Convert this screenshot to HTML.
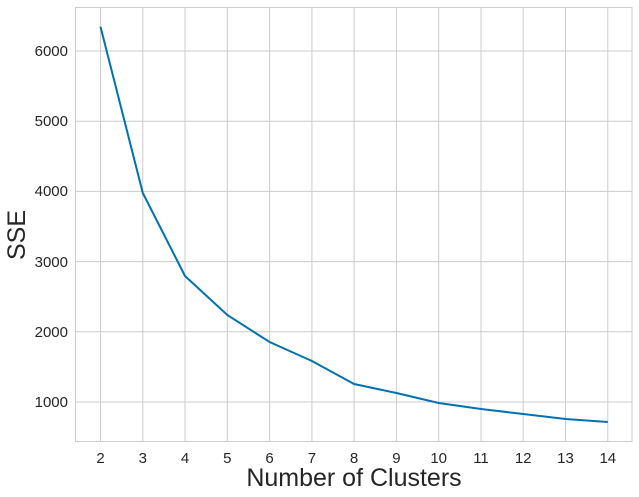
<!DOCTYPE html>
<html><head><meta charset="utf-8"><style>body{margin:0;background:#fff}svg{display:block}</style></head><body>
<svg width="639" height="497" xmlns="http://www.w3.org/2000/svg" font-family="Liberation Sans, sans-serif">
<g stroke="#cccccc" stroke-width="1">
<line x1="100.5" y1="7" x2="100.5" y2="441.5"/><line x1="142.8" y1="7" x2="142.8" y2="441.5"/><line x1="185" y1="7" x2="185" y2="441.5"/><line x1="227.3" y1="7" x2="227.3" y2="441.5"/><line x1="269.6" y1="7" x2="269.6" y2="441.5"/><line x1="311.9" y1="7" x2="311.9" y2="441.5"/><line x1="354.1" y1="7" x2="354.1" y2="441.5"/><line x1="396.4" y1="7" x2="396.4" y2="441.5"/><line x1="438.7" y1="7" x2="438.7" y2="441.5"/><line x1="481" y1="7" x2="481" y2="441.5"/><line x1="523.2" y1="7" x2="523.2" y2="441.5"/><line x1="565.5" y1="7" x2="565.5" y2="441.5"/><line x1="607.8" y1="7" x2="607.8" y2="441.5"/>
<line x1="75.5" y1="51" x2="632" y2="51"/><line x1="75.5" y1="121.2" x2="632" y2="121.2"/><line x1="75.5" y1="191.4" x2="632" y2="191.4"/><line x1="75.5" y1="261.6" x2="632" y2="261.6"/><line x1="75.5" y1="331.8" x2="632" y2="331.8"/><line x1="75.5" y1="402" x2="632" y2="402"/>
<rect x="75.5" y="7.5" width="556.5" height="434" fill="none"/>
</g>
<polyline fill="none" stroke="#0072b2" stroke-width="2" points="100.5,26.7 142.8,193 185,276 227.3,315 269.6,342 311.9,361 354.1,384 396.4,393 438.7,403 481,409 523.2,414 565.5,419 607.8,422"/>
<g font-size="15" fill="#262626" text-anchor="end">
<text x="68" y="56">6000</text><text x="68" y="126">5000</text><text x="68" y="196">4000</text><text x="68" y="267">3000</text><text x="68" y="337">2000</text><text x="68" y="407">1000</text>
</g>
<g font-size="15" fill="#262626" text-anchor="middle">
<text x="100.5" y="463">2</text><text x="142.8" y="463">3</text><text x="185" y="463">4</text><text x="227.3" y="463">5</text><text x="269.6" y="463">6</text><text x="311.9" y="463">7</text><text x="354.1" y="463">8</text><text x="396.4" y="463">9</text><text x="438.7" y="463">10</text><text x="481" y="463">11</text><text x="523.2" y="463">12</text><text x="565.5" y="463">13</text><text x="607.8" y="463">14</text>
</g>
<text x="354" y="486" font-size="25" fill="#262626" text-anchor="middle">Number of Clusters</text>
<text transform="translate(25,235) rotate(-90)" font-size="25" fill="#262626" text-anchor="middle">SSE</text>
</svg>
</body></html>
